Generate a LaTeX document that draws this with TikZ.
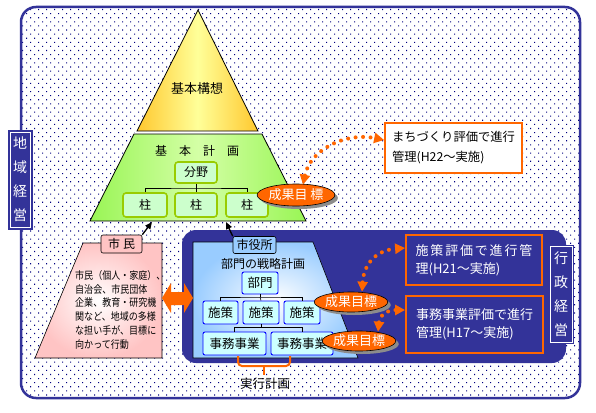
\documentclass[tikz,border=0pt]{standalone}
\usepackage{fontspec}
\setmainfont{Noto Sans CJK JP}
\newfontfamily\narrowjp[FakeStretch=0.86]{Noto Sans CJK JP}
\usetikzlibrary{shapes.geometric,arrows.meta,shadows,calc}
\definecolor{navy}{HTML}{333399}
\definecolor{dotc}{HTML}{000080}
\definecolor{orng}{HTML}{FF6600}
\definecolor{gold}{HTML}{FFC82E}
\definecolor{ltyellow}{HTML}{FFFF99}
\definecolor{grn}{HTML}{99F555}
\definecolor{ltgreen}{HTML}{D4FFA6}
\definecolor{pillarfill}{HTML}{CCFFCC}
\definecolor{pillarline}{HTML}{99CC00}
\definecolor{pinkc}{HTML}{FFC4C4}
\definecolor{ltblue}{HTML}{99CCFF}
\definecolor{cyanfill}{HTML}{CCFFFF}
\begin{document}
\begin{tikzpicture}[x=1pt,y=-1pt,
  pillar/.style={draw=pillarline, fill=pillarfill, line width=1.6pt, rounded corners=3pt, inner sep=0pt, font=\fontsize{12}{14}\selectfont},
  deptbox/.style={draw=blue, fill=cyanfill, line width=0.9pt, rounded corners=2pt, inner sep=0pt, font=\fontsize{12.5}{14}\selectfont},
  goal/.style={ellipse, fill=orng, draw=black, line width=0.6pt, text=white, inner sep=0pt, font=\fontsize{13}{15}\selectfont, drop shadow={shadow xshift=3pt, shadow yshift=-3pt, fill=black!45, opacity=1}},
  evalbox/.style={draw=orng, line width=1.8pt, inner sep=0pt, align=left},
  tagbox/.style={draw=black, line width=0.6pt, rounded corners=2pt, inner sep=0pt, font=\fontsize{12}{14}\selectfont},
  vlabel/.style={fill=navy, draw=navy, line width=1pt, text=white, align=center, inner sep=0pt, font=\fontsize{14}{24}\selectfont},
  dotarrow/.style={draw=orng, line width=4pt, line cap=round, dash pattern=on 0pt off 7.5pt, {Triangle[length=10pt,width=10pt]}-{Triangle[length=10pt,width=10pt]}},
  tree/.style={draw=black, line width=0.6pt},
  blackarrow/.style={draw=black, line width=1.3pt, -{Triangle[length=7pt,width=6pt]}},
]
\useasboundingbox (0,0) rectangle (596,412);
\fill[white] (0,0) rectangle (596,412);
% outer dotted region
\fill[white, rounded corners=15pt] (21,7) rectangle (580,398);
\begin{scope}
\clip[rounded corners=15pt] (21,7) rectangle (580,398);
\foreach \r in {0,...,95} {
  \pgfmathsetmacro{\yy}{9+\r*4.1}
  \pgfmathsetmacro{\xo}{mod(\r,2)*4}
  \fill[dotc] \foreach \x in {22,30,...,578} {(\x+\xo,\yy) rectangle ++(1.1,1.1)};
}
\end{scope}
\draw[navy, line width=2.5pt, rounded corners=15pt] (21,7) rectangle (580,398);

% left label
\node[vlabel, minimum width=24pt, minimum height=99pt] (chiiki) at (20,179.5) {地\\域\\経\\営};
\draw[white, line width=0.9pt] ($(chiiki.north west)+(2.5,2.5)$) rectangle ($(chiiki.south east)+(-2.5,-2.5)$);

% pyramid
\fill[white] (136,130) -- (259,130) -- (263,136) -- (132,136) -- cycle;
\draw[black, line width=0.8pt, left color=gold, right color=gold, middle color=ltyellow] (198,10) -- (258,131) -- (137,131) -- cycle;
\draw[black, line width=0.8pt, left color=grn, right color=grn, middle color=ltgreen] (134,134) -- (262,134) -- (306,221) -- (90,221) -- cycle;
\coordinate (pyrL) at (152,222);
\coordinate (pyrR) at (226,222);
\node[font=\fontsize{13}{15}\selectfont] (koso) at (197,89) {基本構想};
\node[font=\fontsize{12}{14}\selectfont] (keikaku) at (197,151) {基　本　計　画};
\node[pillar, minimum width=42pt, minimum height=21pt] (bunya) at (196,172.5) {分野};
\node[pillar, minimum width=44pt, minimum height=24pt] (p1) at (145,205) {柱};
\node[pillar, minimum width=42pt, minimum height=24pt] (p2) at (196,205) {柱};
\node[pillar, minimum width=42pt, minimum height=24pt] (p3) at (247,205) {柱};
\draw[tree] (bunya.south) -- (196,188) coordinate (bj);
\draw[tree] (p1.north) |- (bj) -| (p3.north);
\draw[tree] (bj) -- (p2.north);

% citizens
\draw[black, line width=0.6pt, shading=radial, inner color=white, outer color=pinkc] (83,243) -- (162,243) -- (162,358) -- (35,358) -- cycle;
\node[tagbox, fill=pinkc, minimum width=41pt, minimum height=18pt] (shimin) at (121.5,244) {市\hspace{3pt}民};
\node[anchor=north west, inner sep=0pt, align=left, font=\narrowjp\fontsize{10.5}{13.9}\selectfont] (shimintext) at (75,270) {市民（個人・家庭）、\\自治会、市民団体\\企業、教育・研究機\\関など、地域の多様\\な担い手が、目標に\\向かって行動};

% city hall region
\fill[navy, rounded corners=14pt] (182,230) rectangle (566,363);
\draw[black, line width=0.6pt, shading=radial, inner color=white, outer color=ltblue] (193,242) -- (313,242) -- (358,358) -- (193,358) -- cycle;
\node[tagbox, fill=ltblue, minimum width=43pt, minimum height=17pt] (shiyaku) at (254.5,245) {市役所};
\node[font=\fontsize{12}{14}\selectfont] (senryaku) at (263,264) {部門の戦略計画};
\node[deptbox, minimum width=36pt, minimum height=22pt] (bumon) at (260,283) {部門};
\node[deptbox, minimum width=35pt, minimum height=23pt] (s1) at (220.5,312.5) {施策};
\node[deptbox, minimum width=36pt, minimum height=23pt] (s2) at (261,312.5) {施策};
\node[deptbox, minimum width=36pt, minimum height=23pt] (s3) at (302,312.5) {施策};
\node[deptbox, minimum width=63pt, minimum height=23pt] (j1) at (234.5,343.5) {事務事業};
\node[deptbox, minimum width=62pt, minimum height=23pt] (j2) at (302,343.5) {事務事業};
\draw[tree] (bumon.south) -- (260,297) coordinate (bj2);
\draw[tree] (s1.north) |- (bj2) -| (s3.north);
\draw[tree] (bj2) -- (s2.north);
\draw[tree] (s2.south) -- (261,327.5) coordinate (bj3);
\draw[tree] (j1.north) |- (bj3) -| (j2.north);

% brace and label
\draw[orng, line width=2pt, rounded corners=4pt] (238,356) -- (238,366) -- (290,366) -- (290,356);
\draw[orng, line width=2pt] (264,366) -- (264,375);
\node[font=\fontsize{12.5}{14}\selectfont] (jikko) at (265,384) {実行計画};

% double arrow citizens <-> city hall
\fill[orng] (162,298) -- (171,283) -- (171,292) -- (184,292) -- (184,283) -- (193,298) -- (184,313) -- (184,305) -- (171,305) -- (171,313) -- cycle;

% black arrows to pyramid
\draw[blackarrow] (shimin.north east) -- (pyrL);
\draw[blackarrow] (shiyaku.north west) -- (pyrR);

% evaluation boxes
\node[evalbox, fill=white, minimum width=137pt, minimum height=50pt, font=\fontsize{12.3}{20}\selectfont] (machi) at (453.5,148) {まちづくり評価で進行\\管理(H22～実施)};
\node[evalbox, fill=navy, text=white, minimum width=136pt, minimum height=50pt, font=\fontsize{13}{18}\selectfont] (shisaku) at (474,260) {{\addfontfeature{LetterSpace=14}施策評価で進行管}\\理(H21～実施)};
\node[evalbox, fill=navy, text=white, minimum width=137pt, minimum height=57pt, font=\fontsize{13}{18}\selectfont] (jimu) at (474.5,324.5) {事務事業評価で進行\\管理(H17～実施)};

% right label
\node[vlabel, minimum width=24pt, minimum height=98pt] (gyosei) at (561,294) {行\\政\\経\\営};
\draw[white, line width=1pt] ($(gyosei.north west)+(1.5,1.5)$) rectangle ($(gyosei.south east)+(-1.5,-1.5)$);

% goal ellipses
\node[goal, minimum width=72pt, minimum height=22pt] (e1) at (296,195) {成果目\hspace{3pt}標};
\node[goal, minimum width=73pt, minimum height=20pt] (e2) at (351,302) {成果目標};
\node[goal, minimum width=72pt, minimum height=20pt] (e3) at (359,341) {成果目標};

% dotted arrows
\draw[dotarrow] ($(e1.north)+(7,1)$) .. controls (310,150) and (345,132) .. ($(machi.west)+(0,-8)$);
\draw[dotarrow] ($(e2.north)+(11,0)$) .. controls (364,262) and (378,250) .. ($(shisaku.west)+(0,-12)$);
\draw[dotarrow] ($(e3.north)+(19,1)$) .. controls (380,313) and (390,310) .. ($(jimu.west)+(0,-14.5)$);
\end{tikzpicture}
\end{document}
